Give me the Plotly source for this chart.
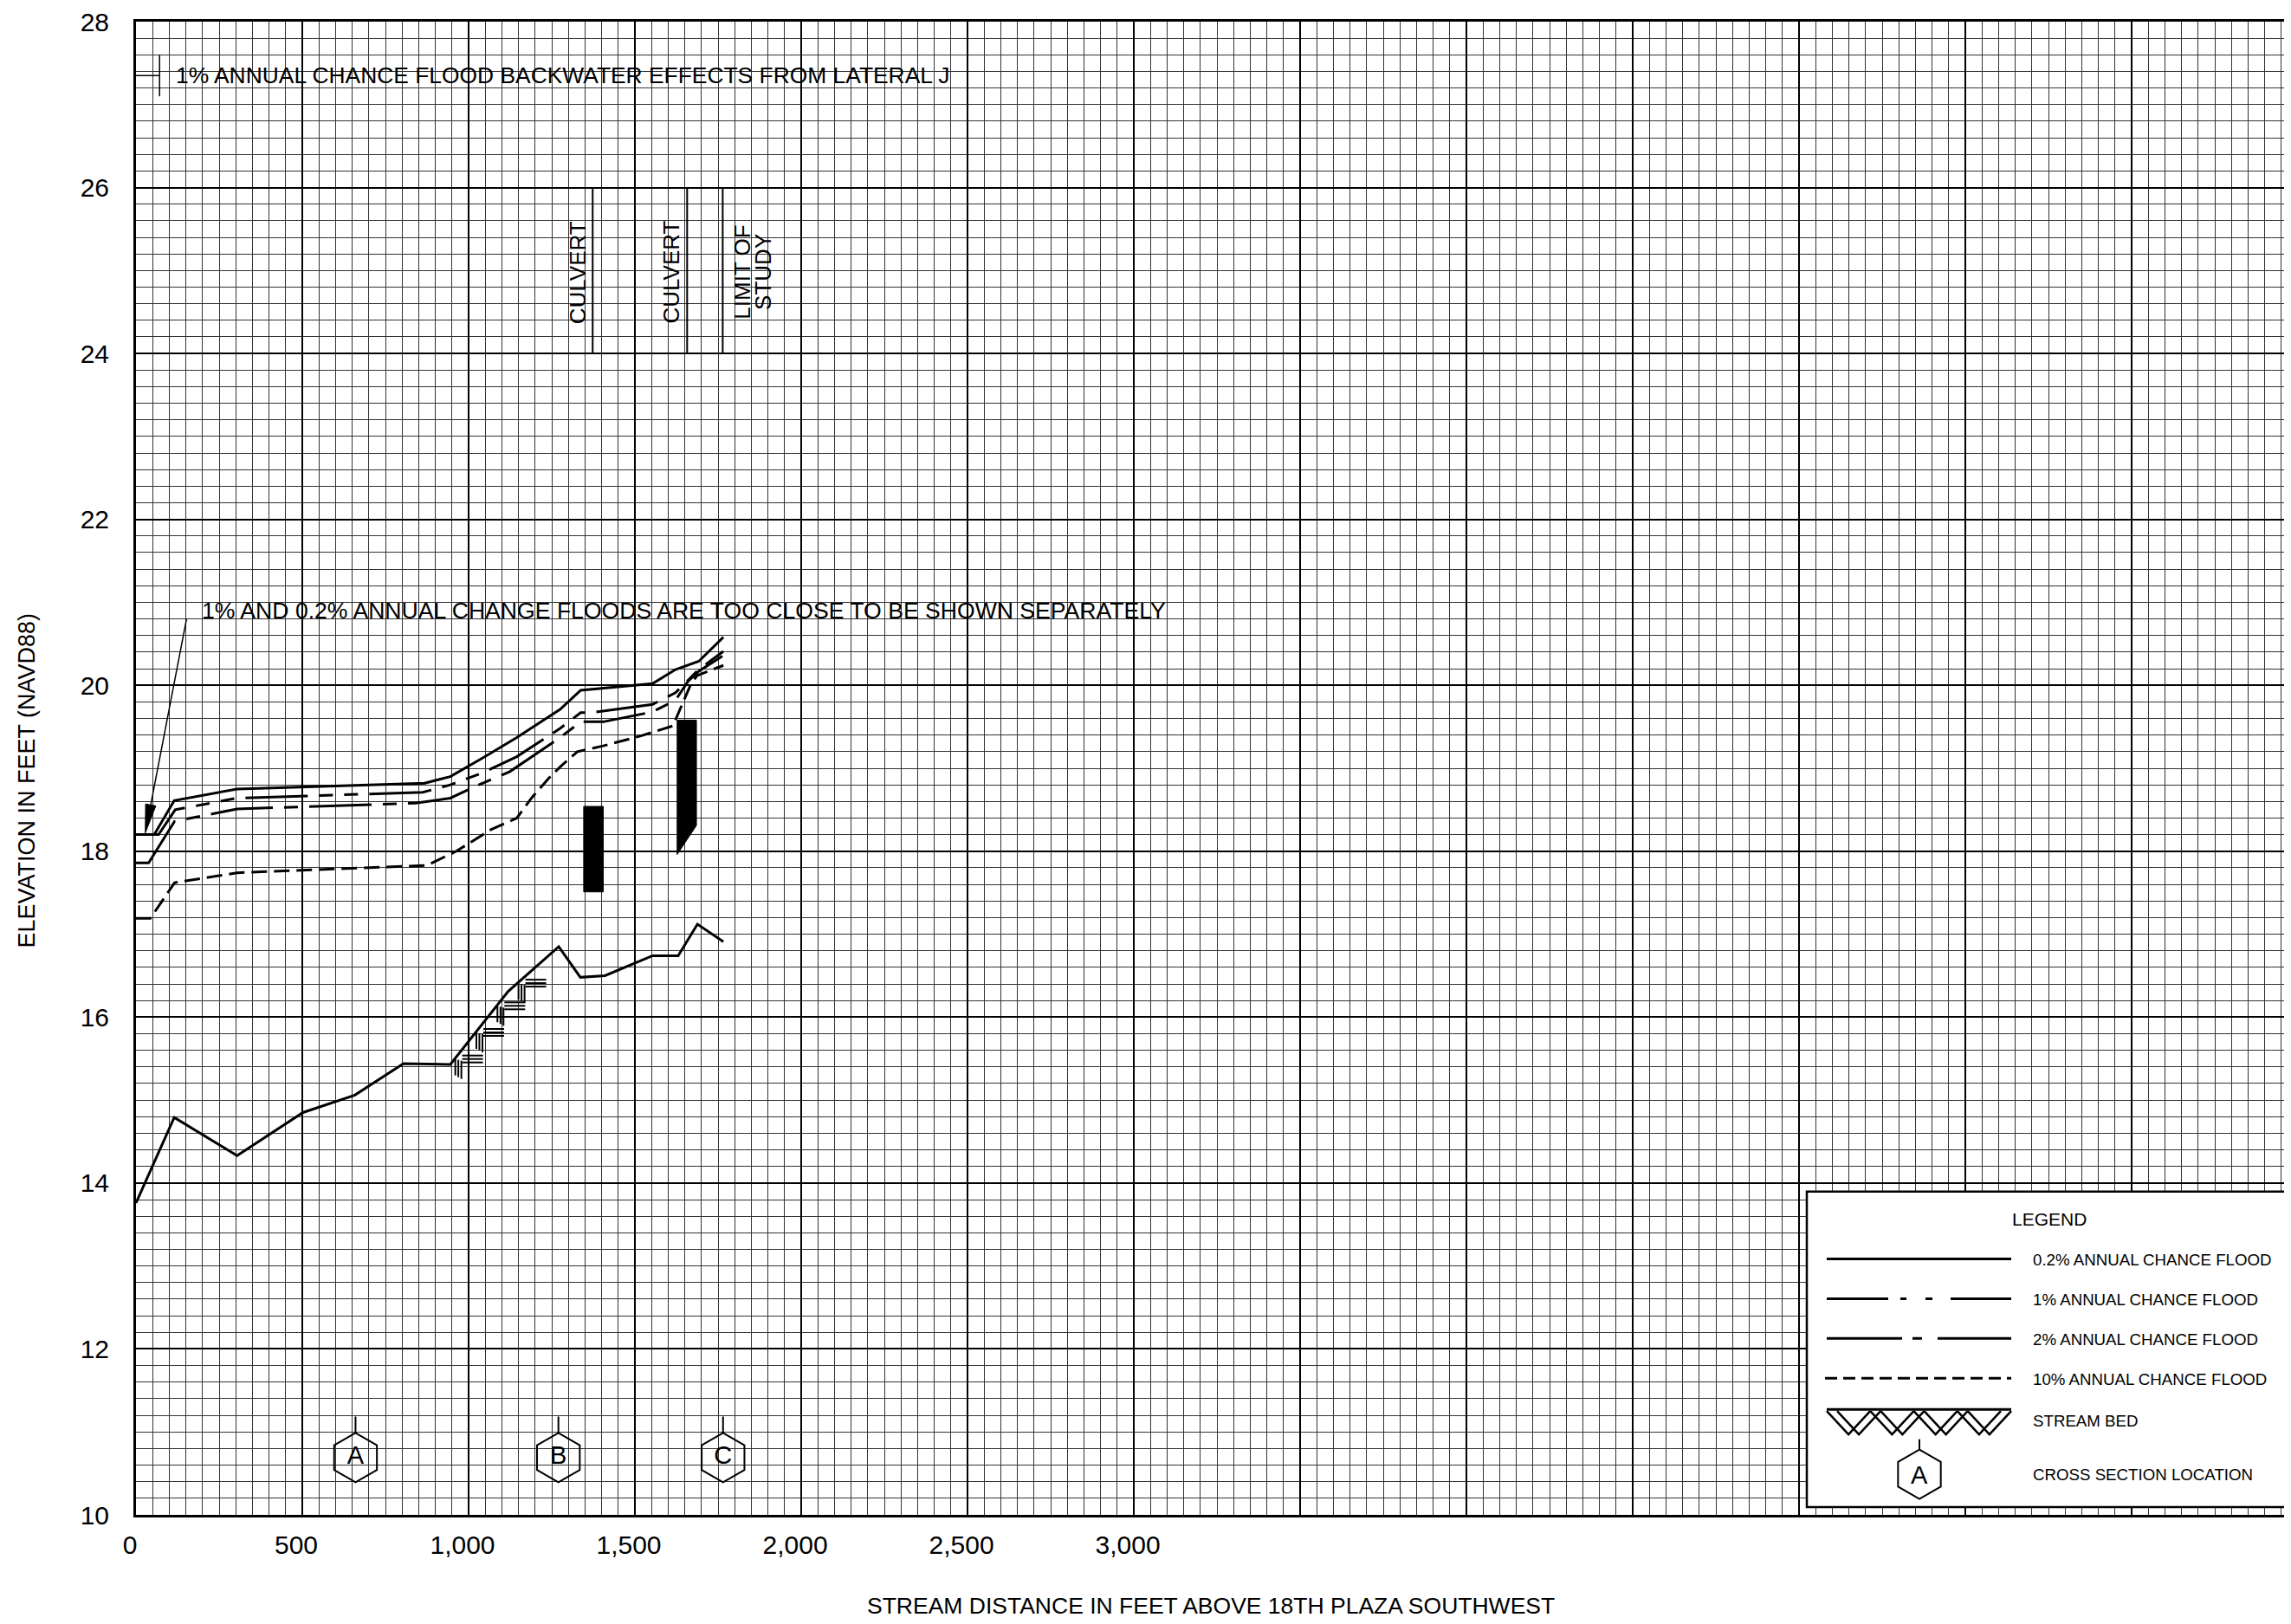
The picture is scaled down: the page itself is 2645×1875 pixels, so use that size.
import numpy as np
import plotly.graph_objects as go

# ---------------- data ----------------
x_tick_vals = [0, 500, 1000, 1500, 2000, 2500, 3000, 3500, 4000, 4500, 5000, 5500, 6000]
x_tick_text = ["0", "500", "1,000", "1,500", "2,000", "2,500", "3,000", "", "", "", "", "", ""]
y_tick_vals = [10, 12, 14, 16, 18, 20, 22, 24, 26, 28]
y_tick_text = ["10", "12", "14", "16", "18", "20", "22", "24", "26", "28"]

flood_02_dist = [0, 55, 115, 304, 868, 945, 1045, 1145, 1275, 1337, 1553, 1622, 1692, 1766]
flood_02_elev = [18.20, 18.20, 18.61, 18.75, 18.82, 18.90, 19.13, 19.37, 19.71, 19.94, 20.02, 20.19, 20.29, 20.58]

flood_1_dist = [0, 68, 118, 304, 862, 945, 1045, 1145, 1275, 1337, 1366, 1553, 1622, 1692, 1766]
flood_1_elev = [18.20, 18.20, 18.50, 18.64, 18.71, 18.80, 18.95, 19.14, 19.48, 19.67, 19.67, 19.77, 19.91, 20.19, 20.41]

flood_2_dist = [0, 38, 116, 304, 841, 945, 1019, 1124, 1275, 1337, 1405, 1553, 1622, 1660, 1692, 1766]
flood_2_elev = [17.86, 17.86, 18.36, 18.51, 18.58, 18.64, 18.78, 18.96, 19.37, 19.56, 19.56, 19.68, 19.82, 20.05, 20.17, 20.36]

flood_10_dist = [0, 43, 116, 304, 875, 963, 1067, 1145, 1189, 1241, 1276, 1327, 1405, 1518, 1614, 1670, 1688, 1766]
flood_10_elev = [17.19, 17.19, 17.62, 17.74, 17.83, 18.00, 18.26, 18.40, 18.64, 18.88, 19.02, 19.20, 19.27, 19.39, 19.51, 20.03, 20.12, 20.24]

bed_dist = [0, 115, 304, 502, 658, 804, 945, 1119, 1271, 1336, 1410, 1553, 1630, 1688, 1766]
bed_elev = [13.76, 14.79, 14.33, 14.85, 15.06, 15.44, 15.43, 16.31, 16.85, 16.48, 16.50, 16.74, 16.74, 17.12, 16.91]

culvert1_dist = [1346, 1405, 1405, 1346]
culvert1_elev = [18.54, 18.54, 17.51, 17.51]
culvert2_dist = [1627, 1685, 1685, 1627]
culvert2_elev = [19.58, 19.58, 18.31, 17.96]

structure_dist = [1373, 1657, 1764]
structure_elev = [24.0, 26.0]

xsec_labels = ["A", "B", "C"]
xsec_dist = [660, 1270, 1765]

backwater_dist = [0, 71]
backwater_elev = [27.35, 27.35]
backwater_bar_elev = [27.1, 27.6]

legend_labels = ["0.2% ANNUAL CHANCE FLOOD", "1% ANNUAL CHANCE FLOOD", "2% ANNUAL CHANCE FLOOD",
                 "10% ANNUAL CHANCE FLOOD", "STREAM BED", "CROSS SECTION LOCATION"]

# ---------------- layout geometry (page pixel coordinates) ----------------
FONT = "Liberation Sans, Arial, Helvetica, sans-serif"
OFF = 8                      # default page body margin
PAGE_W, PAGE_H = 2645, 1875
PL, PT, PR, PB = 157, 22, 2645, 1749   # plot area on the page
W, H = PAGE_W - OFF, PAGE_H - OFF
ML, MT = PL - OFF, PT - OFF
MR = W - (PR - OFF)
MB = H - (PB - OFF)
PW, PH = PR - PL, PB - PT
X_RANGE = [0, 6479]
Y_RANGE = [10, 28]
SX = PW / (X_RANGE[1] - X_RANGE[0])
SY = PH / (Y_RANGE[1] - Y_RANGE[0])


def px_to_data(px, py):
    return X_RANGE[0] + (px - PL) / SX, Y_RANGE[0] + (PB - py) / SY


def data_to_px(x, y):
    return PL + (x - X_RANGE[0]) * SX, PB - (y - Y_RANGE[0]) * SY


def px_to_paper(px, py):
    return (px - PL) / PW, (PB - py) / PH


def paper_path(points, close=False):
    s = ""
    for i, (px, py) in enumerate(points):
        x, y = px_to_paper(px, py)
        s += ("M" if i == 0 else "L") + f"{x:.6f},{y:.6f} "
    if close:
        s += "Z"
    return s


def data_path(points_px, close=False):
    s = ""
    for i, (px, py) in enumerate(points_px):
        x, y = px_to_data(px, py)
        s += ("M" if i == 0 else "L") + f"{x:.4f},{y:.5f} "
    if close:
        s += "Z"
    return s


fig = go.Figure()
LW = 3

# flood profiles
fig.add_trace(go.Scatter(x=flood_10_dist, y=flood_10_elev, mode="lines",
                         line=dict(color="black", width=LW, dash="18px,8px"), showlegend=False))
fig.add_trace(go.Scatter(x=flood_2_dist, y=flood_2_elev, mode="lines",
                         line=dict(color="black", width=LW, dash="72px,13px,16px,13px"), showlegend=False))
fig.add_trace(go.Scatter(x=flood_1_dist, y=flood_1_elev, mode="lines",
                         line=dict(color="black", width=LW, dash="72px,13px,16px,13px,16px,13px"), showlegend=False))
fig.add_trace(go.Scatter(x=flood_02_dist, y=flood_02_elev, mode="lines",
                         line=dict(color="black", width=LW), showlegend=False))

# stream bed
fig.add_trace(go.Scatter(x=bed_dist, y=bed_elev, mode="lines",
                         line=dict(color="black", width=LW), showlegend=False))

# stream-bed hatch marks along the steep reach (derived from the bed profile)
hx, hy = [], []
for a in np.linspace(960, 1150, 4):
    ax_, ay_ = data_to_px(a, float(np.interp(a, bed_dist, bed_elev)))
    for i, dx in enumerate([0, 3.5, 7]):
        for (px, py) in [(ax_ + dx, ay_ + 1 + i), (ax_ + dx, ay_ + 20 + 2 * i)]:
            x, y = px_to_data(px, py)
            hx.append(x); hy.append(y)
        hx.append(None); hy.append(None)
    for j, dy in enumerate([-3, 1, 5]):
        for (px, py) in [(ax_ + 8, ay_ + dy), (ax_ + 32, ay_ + dy)]:
            x, y = px_to_data(px, py)
            hx.append(x); hy.append(y)
        hx.append(None); hy.append(None)
fig.add_trace(go.Scatter(x=hx, y=hy, mode="lines", line=dict(color="black", width=2),
                         showlegend=False, connectgaps=False))

# culverts
for cx, cy in [(culvert1_dist, culvert1_elev), (culvert2_dist, culvert2_elev)]:
    fig.add_trace(go.Scatter(x=cx + [cx[0]], y=cy + [cy[0]], mode="lines", fill="toself",
                             fillcolor="black", line=dict(color="black", width=1), showlegend=False))

# structure reference lines
sx, sy = [], []
for d in structure_dist:
    sx += [d, d, None]
    sy += [structure_elev[0], structure_elev[1], None]
fig.add_trace(go.Scatter(x=sx, y=sy, mode="lines", line=dict(color="black", width=2), showlegend=False))

# backwater marker
fig.add_trace(go.Scatter(x=backwater_dist, y=backwater_elev, mode="lines",
                         line=dict(color="black", width=1.5), showlegend=False))
fig.add_trace(go.Scatter(x=[backwater_dist[1], backwater_dist[1]], y=backwater_bar_elev, mode="lines",
                         line=dict(color="black", width=1.5), showlegend=False))

# cross sections
XS_Y = 10.69
HEX = 57
stem_x, stem_y = [], []
for d in xsec_dist:
    top = XS_Y + (HEX / 2) / SY
    stem_x += [d, d, None]
    stem_y += [top, top + 19 / SY, None]
fig.add_trace(go.Scatter(x=stem_x, y=stem_y, mode="lines", line=dict(color="black", width=2), showlegend=False))
fig.add_trace(go.Scatter(x=xsec_dist, y=[XS_Y] * len(xsec_dist), mode="markers+text",
                         text=xsec_labels, textposition="middle center",
                         textfont=dict(family=FONT, size=29, color="black"),
                         marker=dict(symbol="hexagon-open", size=HEX, color="black", line=dict(width=2)),
                         showlegend=False))

shapes = []
annotations = []

# arrow (1% and 0.2% note)
tail_px = data_to_px(152, 20.80)
tip_px = data_to_px(28, 18.22)
v = np.array(tip_px) - np.array(tail_px)
u = v / np.linalg.norm(v)
p = np.array([-u[1], u[0]])
base = np.array(tip_px) - 33 * u
shapes.append(dict(type="path", xref="x", yref="y",
                   path=data_path([tail_px, tuple(base)]), line=dict(color="black", width=1.5)))
shapes.append(dict(type="path", xref="x", yref="y",
                   path=data_path([tip_px, tuple(base + 6 * p), tuple(base - 6 * p)], close=True),
                   fillcolor="black", line=dict(color="black", width=1)))

# text annotations in the chart
annotations.append(dict(x=114, y=27.35, xref="x", yref="y", xanchor="left", yanchor="middle",
                        text="1% ANNUAL CHANCE FLOOD BACKWATER EFFECTS FROM LATERAL J", showarrow=False,
                        font=dict(family=FONT, size=26.4, color="black")))
annotations.append(dict(x=192, y=20.9, xref="x", yref="y", xanchor="left", yanchor="middle",
                        text="1% AND 0.2% ANNUAL CHANGE FLOODS ARE TOO CLOSE TO BE SHOWN SEPARATELY",
                        showarrow=False, font=dict(family=FONT, size=26.6, color="black")))
for lx, txt in [(1328, "CULVERT"), (1610, "CULVERT"), (1824, "LIMIT OF"), (1887, "STUDY")]:
    annotations.append(dict(x=lx, y=24.98, xref="x", yref="y", text=txt, textangle=-90, showarrow=False,
                            xanchor="center", yanchor="middle",
                            font=dict(family=FONT, size=26, color="black")))

# axis titles
tx, ty = px_to_paper(1398, 1854)
annotations.append(dict(x=tx, y=ty, xref="paper", yref="paper", showarrow=False,
                        xanchor="center", yanchor="middle",
                        text="STREAM DISTANCE IN FEET ABOVE 18TH PLAZA SOUTHWEST",
                        font=dict(family=FONT, size=26.5, color="black")))
tx, ty = px_to_paper(31, 900)
annotations.append(dict(x=tx, y=ty, xref="paper", yref="paper", showarrow=False, textangle=-90,
                        xanchor="center", yanchor="middle",
                        text="ELEVATION IN FEET (NAVD88)", font=dict(family=FONT, size=27, color="black")))

# ---------------- legend box ----------------
x0, y0 = px_to_paper(2086, 1375)
x1, y1 = px_to_paper(2643, 1740)
shapes.append(dict(type="rect", xref="paper", yref="paper", x0=x0, x1=x1, y0=y1, y1=y0,
                   fillcolor="white", line=dict(color="black", width=2.5), layer="above"))
tx, ty = px_to_paper(2366, 1407)
annotations.append(dict(x=tx, y=ty, xref="paper", yref="paper", showarrow=False, text="LEGEND",
                        xanchor="center", yanchor="middle",
                        font=dict(family=FONT, size=21, color="black")))
row_y = [1453, 1499, 1545, 1591, 1639, 1701]
dashes = ["solid", "71px,14px,7px,22px,8px,21px,70px", "87px,12px,11px,18px,85px", "14px,7px"]
for k in range(4):
    a0, b0 = px_to_paper(2109 if k < 3 else 2107, row_y[k])
    a1, _ = px_to_paper(2322, row_y[k])
    shapes.append(dict(type="line", xref="paper", yref="paper", x0=a0, x1=a1, y0=b0, y1=b0,
                       line=dict(color="black", width=3, dash=dashes[k]), layer="above"))
for k, lab in enumerate(legend_labels):
    tx, ty = px_to_paper(2345, row_y[k] + 1)
    annotations.append(dict(x=tx, y=ty, xref="paper", yref="paper", xanchor="left", yanchor="middle",
                            showarrow=False, text=lab, font=dict(family=FONT, size=18.7, color="black")))
# stream bed symbol (herringbone)
top, bot = 1627, 1656
a0, b0 = px_to_paper(2109, top)
a1, _ = px_to_paper(2322, top)
shapes.append(dict(type="line", xref="paper", yref="paper", x0=a0, x1=a1, y0=b0, y1=b0,
                   line=dict(color="black", width=3), layer="above"))
shift = 12
period = (2322 - 2109 - shift) / 4
for i in range(4):
    c = 2109 + period / 2 + i * period
    hw = period / 2
    for s in (0, shift):
        shapes.append(dict(type="path", xref="paper", yref="paper", layer="above",
                           path=paper_path([(c - hw + s, top + 2), (c + s, bot), (c + hw + s, top + 2)]),
                           line=dict(color="black", width=2.5)))
# cross section symbol
cx, cy, R = 2216, 1702, 28.5
w = R * np.sqrt(3) / 2
hexpts = [(cx, cy - R), (cx + w, cy - R / 2), (cx + w, cy + R / 2), (cx, cy + R), (cx - w, cy + R / 2), (cx - w, cy - R / 2)]
shapes.append(dict(type="path", xref="paper", yref="paper", layer="above",
                   path=paper_path(hexpts, close=True), line=dict(color="black", width=2)))
shapes.append(dict(type="path", xref="paper", yref="paper", layer="above",
                   path=paper_path([(cx, cy - R), (cx, cy - R - 12)]), line=dict(color="black", width=2)))
tx, ty = px_to_paper(cx, cy + 1)
annotations.append(dict(x=tx, y=ty, xref="paper", yref="paper", showarrow=False, text="A",
                        xanchor="center", yanchor="middle",
                        font=dict(family=FONT, size=29, color="black")))

fig.update_layout(
    width=W, height=H,
    margin=dict(l=ML, r=MR, t=MT, b=MB, pad=0),
    paper_bgcolor="white", plot_bgcolor="white",
    showlegend=False,
    shapes=shapes, annotations=annotations,
    xaxis=dict(range=X_RANGE, tickmode="array", tickvals=x_tick_vals, ticktext=x_tick_text,
               showgrid=True, gridcolor="black", gridwidth=2,
               minor=dict(tick0=0, dtick=50, showgrid=True, gridcolor="#333", gridwidth=1),
               showline=True, linecolor="black", linewidth=3, mirror=True, ticks="", zeroline=False,
               tickfont=dict(family=FONT, size=30, color="black"), ticklabelstandoff=6,
               ticklabelshift=-7, ticklabeloverflow="allow", fixedrange=True),
    yaxis=dict(range=Y_RANGE, tickmode="array", tickvals=y_tick_vals, ticktext=y_tick_text,
               showgrid=True, gridcolor="black", gridwidth=2,
               minor=dict(tick0=10, dtick=0.2, showgrid=True, gridcolor="#333", gridwidth=1),
               showline=True, linecolor="black", linewidth=3, ticks="", zeroline=False,
               tickfont=dict(family=FONT, size=30, color="black"), ticklabelstandoff=22,
               ticklabeloverflow="allow", fixedrange=True),
)

fig.write_html("out.html")
